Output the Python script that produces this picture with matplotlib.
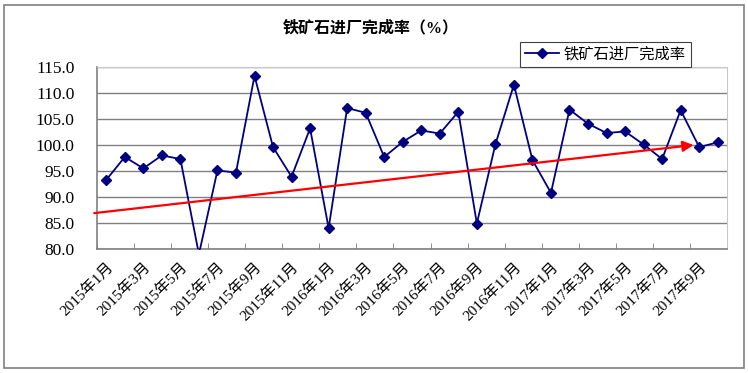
import numpy as np
import matplotlib.pyplot as plt
from matplotlib.patches import Rectangle

plt.rcParams['font.family'] = ['Liberation Serif', 'Noto Sans CJK SC']

months = ['2015年%d月' % m for m in range(1, 13)] + \
         ['2016年%d月' % m for m in range(1, 13)] + \
         ['2017年%d月' % m for m in range(1, 11)]
rate = [93.3, 97.7, 95.5, 98.0, 97.3, 79.0, 95.1, 94.7, 113.3, 99.6,
        93.9, 103.2, 84.0, 107.1, 106.2, 97.7, 100.6, 102.8, 102.2, 106.4,
        84.9, 100.1, 111.6, 97.1, 90.8, 106.8, 104.1, 102.3, 102.6, 100.1,
        97.3, 106.7, 99.6, 100.5]
# trend arrow (start / end)
trend_x = [-0.65, 31.7]
trend_y = [86.9, 100.0]

fig = plt.figure(figsize=(7.48, 3.73), dpi=100)
ax = fig.add_axes([0.1297, 0.3324, 0.8422, 0.488])

x = np.arange(len(rate))
ax.plot(x, rate, color='#000080', lw=1.3, marker='D', ms=5.5,
        label='铁矿石进厂完成率', zorder=3)

ax.annotate('', xy=(trend_x[1], trend_y[1]), xytext=(trend_x[0], trend_y[0]),
            arrowprops=dict(arrowstyle='-|>', color='red', lw=1.6,
                            mutation_scale=16, shrinkA=0, shrinkB=0),
            annotation_clip=False, zorder=4)

ax.set_ylim(80, 115)
ax.set_yticks(np.arange(80, 116, 5))
ax.set_yticklabels(['%.1f' % v for v in np.arange(80, 116, 5)], fontsize=12.5)
ax.yaxis.grid(True, color='#808080', lw=1.0)
ax.set_axisbelow(True)
ax.tick_params(axis='y', length=0, pad=16)

ax.set_xlim(-0.5, len(rate) - 0.5)
ax.set_xticks(x[::2])
ax.set_xticklabels(months[::2], rotation=45, ha='right', va='top',
                   rotation_mode='anchor', fontsize=11)
ax.set_xticks(np.arange(-0.5, len(rate), 2), minor=True)
ax.tick_params(axis='x', which='major', length=0, pad=8)
ax.tick_params(axis='x', which='minor', length=4, direction='in', color='#808080')

for s in ['top', 'right']:
    ax.spines[s].set_color('#c8c8c8')
for s in ['left', 'bottom']:
    ax.spines[s].set_color('#808080')
    ax.spines[s].set_linewidth(1.2)

fig.text(0.495, 0.925, '铁矿石进厂完成率（%）', ha='center', va='center',
         fontsize=11.5, fontweight='bold')
leg = fig.legend(loc='upper right', bbox_to_anchor=(0.934, 0.908), fontsize=11,
                 fancybox=False, framealpha=1, edgecolor='#404040',
                 handlelength=2.2, handletextpad=0.3, borderpad=0.35)
leg.get_frame().set_linewidth(0.8)

fig.patches.append(Rectangle((0.006, 0.013), 0.988, 0.974, transform=fig.transFigure,
                             fill=False, edgecolor='#808080', lw=1.2))

fig.savefig('out.png', dpi=100)
